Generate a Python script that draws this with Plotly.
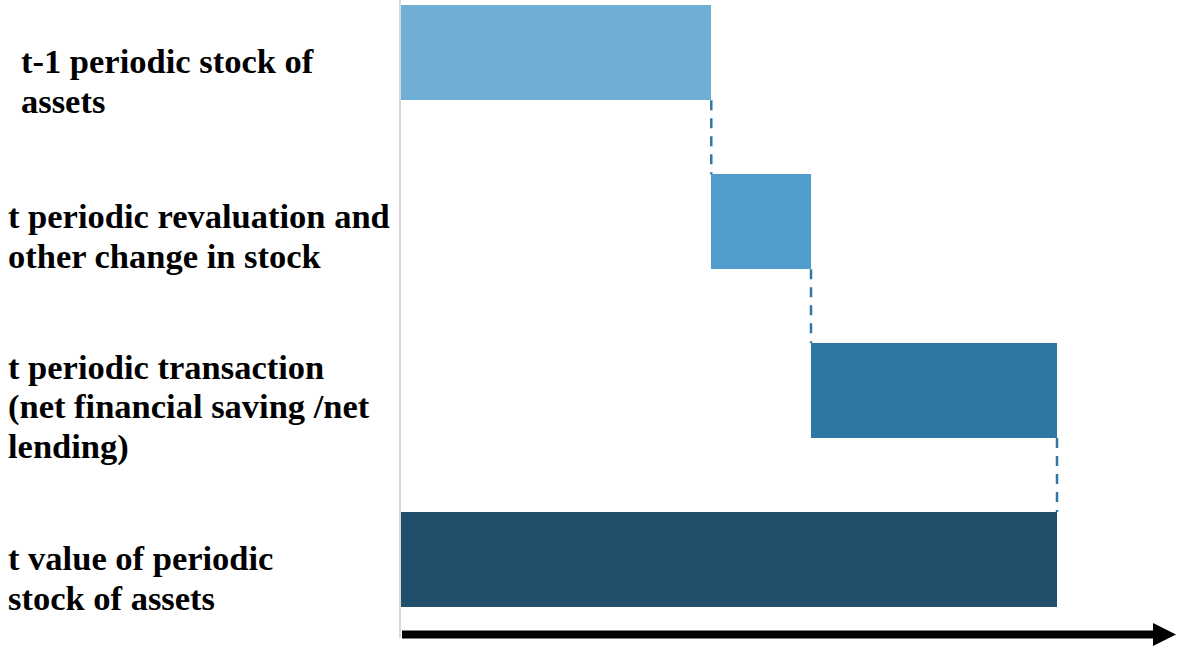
import numpy as np
import plotly.graph_objects as go

# ---- data -------------------------------------------------------------
categories = [
    "t-1 periodic stock of<br>assets",
    "t periodic revaluation and<br>other change in stock",
    "t periodic transaction<br>(net financial saving /net<br>lending)",
    "t value of periodic<br>stock of assets",
]
opening_stock = 47.3    # stock carried over from t-1
revaluation = 15.2      # revaluation and other change in stock
transaction = 37.5      # net financial saving / net lending

# ---- derived waterfall geometry ---------------------------------------
steps = [opening_stock, revaluation, transaction]
closing_stock = sum(steps)
lengths = steps + [closing_stock]
bases = list(np.concatenate([[0], np.cumsum(steps)[:-1]])) + [0]
ends = [b + l for b, l in zip(bases, lengths)]
rows = np.arange(len(categories))

bar_colors = ["#6fafd5", "#509dcb", "#2e77a2", "#214f6b"]
connector_color = "#2f78a6"
bar_w = 0.5625

W, H = 1177, 648
M_L, M_R, M_T, M_B = 401, 0, 0, 10
plot_w = W - M_L - M_R
plot_h = H - M_T - M_B

fig = go.Figure()

fig.add_trace(go.Bar(
    y=rows, x=lengths, base=bases, orientation="h",
    width=bar_w, marker=dict(color=bar_colors, line=dict(width=0)),
    hoverinfo="skip", showlegend=False,
))

# dashed connectors from the end of each bar down to the next bar
cx, cy = [], []
for i in range(len(rows) - 1):
    cx += [ends[i], ends[i], None]
    cy += [rows[i] + bar_w / 2, rows[i + 1] - bar_w / 2, None]
fig.add_trace(go.Scatter(
    x=cx, y=cy, mode="lines",
    line=dict(color=connector_color, width=2.5, dash="10px,8px"),
    hoverinfo="skip", showlegend=False,
))

# ---- row labels (left aligned, one annotation per line) ---------------
label_font = dict(family="Liberation Serif", size=34.5, color="black")
first_baseline_px = [73, 228, 379, 570]
left_px = [20, 7, 7, 7]
line_step_px = 39.5
for cat, base_px, lx in zip(categories, first_baseline_px, left_px):
    for j, line in enumerate(cat.split("<br>")):
        bl = base_px + j * line_step_px
        mid = bl - 0.338 * label_font["size"]
        fig.add_annotation(
            text=f"<b>{line}</b>", xref="paper", yref="paper",
            x=(lx - M_L) / plot_w, y=1 - (mid - M_T) / plot_h,
            xanchor="left", yanchor="middle", showarrow=False,
            borderpad=0, font=label_font,
        )

# ---- horizontal arrow under the chart ---------------------------------
arrow_y = 634.5
head_x0, head_x1 = 1153, 1176
head_half = 11.5
def px_x(p):
    return (p - M_L) / plot_w
def px_y(p):
    return 1 - (p - M_T) / plot_h
fig.add_shape(type="line", xref="paper", yref="paper",
              x0=px_x(M_L + 1), x1=px_x(head_x0 + 2),
              y0=px_y(arrow_y), y1=px_y(arrow_y),
              line=dict(color="black", width=8))
fig.add_shape(type="path", xref="paper", yref="paper",
              path=(f"M {px_x(head_x0)},{px_y(arrow_y - head_half)} "
                    f"L {px_x(head_x1)},{px_y(arrow_y)} "
                    f"L {px_x(head_x0)},{px_y(arrow_y + head_half)} Z"),
              fillcolor="black", line=dict(width=0))

row_px0, row_step_px = 52.8, 168.9
fig.update_layout(
    width=W, height=H,
    margin=dict(l=M_L, r=M_R, t=M_T, b=M_B, pad=0),
    paper_bgcolor="white", plot_bgcolor="white",
    bargap=0,
    xaxis=dict(range=[0, plot_w / (656 / closing_stock)],
               showgrid=False, zeroline=False, showline=False,
               showticklabels=False, ticks=""),
    yaxis=dict(range=[(plot_h - row_px0) / row_step_px, -row_px0 / row_step_px],
               showgrid=False, zeroline=False, showline=True,
               linecolor="#d9d9d9", linewidth=2,
               showticklabels=False, ticks=""),
)

fig.write_html("out.html", config={"displayModeBar": False})
